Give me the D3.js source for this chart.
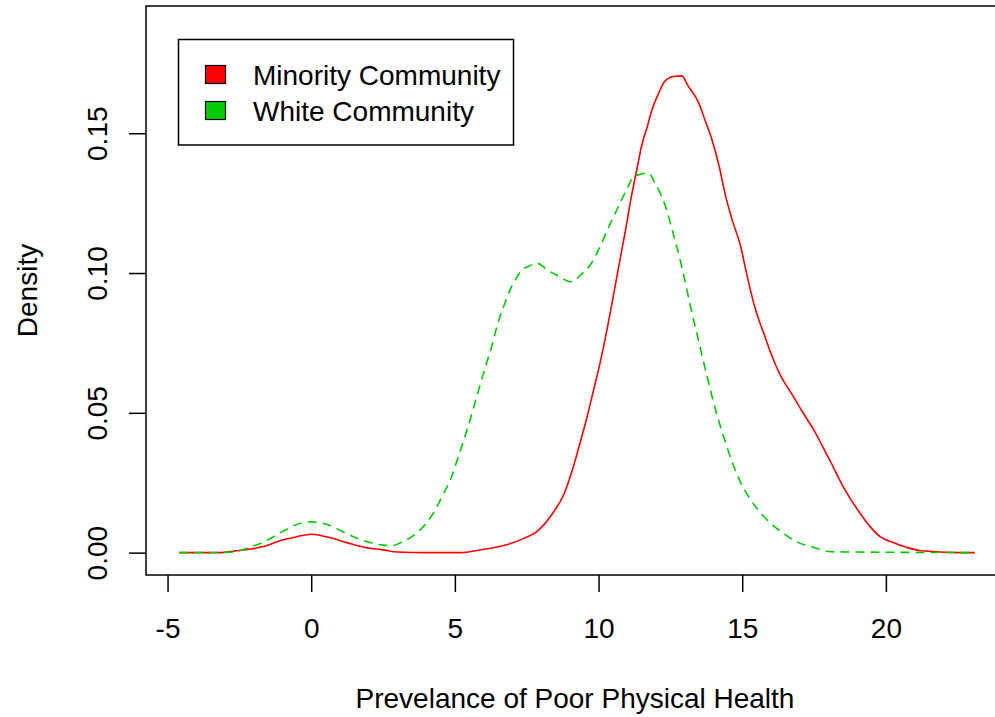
<!DOCTYPE html>
<html>
<head>
<meta charset="utf-8">
<script src="https://cdn.jsdelivr.net/npm/d3@7"></script>
<style>
  body { margin: 0; background: #fff; }
  text { font-family: "Liberation Sans", Arial, sans-serif; fill: #000; }
</style>
</head>
<body>
<div id="chart"></div>
<script>
// density estimates
const minorityX = [-4.6, -3.2, -2.65, -2.1, -1.7, -1.0, -0.5, 0, 0.6, 1.3, 1.9, 2.5, 3.0, 4.0, 5.2, 5.9, 6.8, 7.4, 7.85, 8.4, 8.8, 9.1, 9.35, 9.6, 9.8, 10.05, 10.3, 10.5, 10.75, 10.95, 11.1, 11.35, 11.5, 11.7, 11.85, 12.1, 12.3, 12.6, 12.9, 13.1, 13.5, 13.7, 13.95, 14.2, 14.4, 14.65, 14.95, 15.15, 15.45, 15.8, 16.0, 16.3, 16.8, 17.1, 17.5, 17.85, 18.1, 18.45, 18.75, 19.1, 19.45, 19.8, 20.25, 20.75, 21.2, 21.65, 22.2, 23.1];
const minorityY = [0, 0, 0.0006, 0.0013, 0.0021, 0.0045, 0.0057, 0.0066, 0.0055, 0.0034, 0.0018, 0.001, 0.0002, 0, 0, 0.001, 0.0028, 0.0051, 0.0075, 0.014, 0.021, 0.030, 0.039, 0.0485, 0.057, 0.0677, 0.08, 0.091, 0.105, 0.116, 0.125, 0.138, 0.1455, 0.1525, 0.158, 0.1645, 0.1685, 0.1703, 0.1705, 0.1672, 0.1605, 0.1548, 0.1476, 0.1381, 0.1285, 0.119, 0.1094, 0.0999, 0.0874, 0.077, 0.0712, 0.064, 0.0555, 0.0503, 0.0437, 0.0369, 0.032, 0.0248, 0.0195, 0.0141, 0.0093, 0.0057, 0.0036, 0.0018, 0.0007, 0.0004, 0.0001, 0];

const whiteX = [-4.6, -3.0, -2.6, -2.1, -1.7, -1.0, -0.5, 0, 0.55, 1.1, 1.6, 2.05, 2.5, 2.8, 3.1, 3.5, 3.9, 4.25, 4.55, 4.85, 5.12, 5.35, 5.53, 5.76, 5.93, 6.1, 6.28, 6.4, 6.57, 6.74, 6.92, 7.1, 7.33, 7.56, 7.85, 8.3, 8.65, 9.0, 9.4, 9.75, 10.1, 10.4, 10.75, 11.0, 11.2, 11.45, 11.73, 11.97, 12.2, 12.37, 12.5, 12.66, 12.84, 13.0, 13.2, 13.5, 13.8, 14.1, 14.4, 14.7, 15.0, 15.3, 15.75, 16.2, 16.6, 17.0, 17.4, 17.8, 18.1, 23.1];
const whiteY = [0, 0.0001, 0.0004, 0.0021, 0.0036, 0.0075, 0.0101, 0.011, 0.0101, 0.0075, 0.0051, 0.0036, 0.0027, 0.0025, 0.0035, 0.0057, 0.0093, 0.0141, 0.02, 0.0263, 0.0343, 0.0415, 0.0475, 0.0558, 0.0618, 0.0677, 0.0737, 0.0785, 0.0844, 0.0892, 0.094, 0.0975, 0.1011, 0.1023, 0.1035, 0.1005, 0.0987, 0.0969, 0.0995, 0.1035, 0.1105, 0.1175, 0.125, 0.1303, 0.1342, 0.1353, 0.1357, 0.1321, 0.1273, 0.1226, 0.1178, 0.1118, 0.1047, 0.0975, 0.088, 0.075, 0.062, 0.05, 0.04, 0.031, 0.024, 0.0188, 0.0129, 0.0087, 0.0057, 0.0034, 0.0022, 0.0008, 0.0003, 0];

const xTicks = [-5, 0, 5, 10, 15, 20];
const yTicks = [0, 0.05, 0.10, 0.15];
const yTickLabels = ['0.00', '0.05', '0.10', '0.15'];
const legendLabels = ['Minority Community', 'White Community'];
const seriesColors = ['#ff0000', '#00cd00'];

const width = 995, height = 717;
const plot = { left: 146, top: 6, right: 1008, bottom: 575 };
const fontSize = 28;

const svg = d3.select('#chart')
  .append('svg')
  .attr('width', width)
  .attr('height', height);

const x = d3.scaleLinear().domain([-5.75, 24.25]).range([plot.left, plot.right]);
const y = d3.scaleLinear().domain([-0.008, 0.1955]).range([plot.bottom, plot.top]);

// box
svg.append('rect')
  .attr('x', plot.left).attr('y', plot.top)
  .attr('width', plot.right - plot.left).attr('height', plot.bottom - plot.top)
  .attr('fill', 'none').attr('stroke', '#000').attr('stroke-width', 1.5);

// x axis
const xAxis = svg.append('g')
  .attr('transform', `translate(0,${plot.bottom})`)
  .call(d3.axisBottom(x).tickValues(xTicks).tickSize(17).tickPadding(0).tickFormat(d3.format('d')));
xAxis.select('.domain').remove();
xAxis.selectAll('.tick line').attr('stroke', '#000').attr('stroke-width', 1.5);
xAxis.selectAll('.tick text')
  .attr('y', 63).attr('dy', null)
  .style('font-size', fontSize + 'px')
  .text(d => d < 0 ? '-' + Math.abs(d) : d);

// y axis
const yAxis = svg.append('g')
  .attr('transform', `translate(${plot.left},0)`)
  .call(d3.axisLeft(y).tickValues(yTicks).tickSize(17).tickFormat((d, i) => yTickLabels[i]));
yAxis.select('.domain').remove();
yAxis.selectAll('.tick line').attr('stroke', '#000').attr('stroke-width', 1.5);
yAxis.selectAll('.tick text')
  .attr('x', null).attr('dy', null)
  .attr('text-anchor', 'middle')
  .attr('transform', 'translate(-39,0) rotate(-90)')
  .style('font-size', fontSize + 'px');

// axis titles
svg.append('text')
  .attr('x', (plot.left + plot.right) / 2 - 2).attr('y', 708)
  .attr('text-anchor', 'middle')
  .style('font-size', fontSize + 'px')
  .text('Prevelance of Poor Physical Health');

svg.append('text')
  .attr('transform', `translate(37,${(plot.top + plot.bottom) / 2}) rotate(-90)`)
  .attr('text-anchor', 'middle')
  .style('font-size', fontSize + 'px')
  .text('Density');

// density curves
const line = d3.line()
  .x(d => x(d[0]))
  .y(d => y(d[1]))
  .curve(d3.curveMonotoneX);

svg.append('path')
  .datum(minorityX.map((v, i) => [v, minorityY[i]]))
  .attr('d', line)
  .attr('fill', 'none')
  .attr('stroke', seriesColors[0])
  .attr('stroke-width', 1.6);

svg.append('path')
  .datum(whiteX.map((v, i) => [v, whiteY[i]]))
  .attr('d', line)
  .attr('fill', 'none')
  .attr('stroke', seriesColors[1])
  .attr('stroke-width', 1.6)
  .attr('stroke-dasharray', '9,6');

// legend
const legend = svg.append('g');
legend.append('rect')
  .attr('x', 178.5).attr('y', 39.5).attr('width', 335).attr('height', 105.5)
  .attr('fill', '#fff').attr('stroke', '#000').attr('stroke-width', 1.5);

legendLabels.forEach((label, i) => {
  legend.append('rect')
    .attr('x', 205.5).attr('y', 65.5 + i * 36).attr('width', 20).attr('height', 18)
    .attr('fill', seriesColors[i]).attr('stroke', '#000').attr('stroke-width', 1.2);
  legend.append('text')
    .attr('x', 253).attr('y', 85 + i * 36)
    .style('font-size', fontSize + 'px')
    .text(label);
});
</script>
</body>
</html>
